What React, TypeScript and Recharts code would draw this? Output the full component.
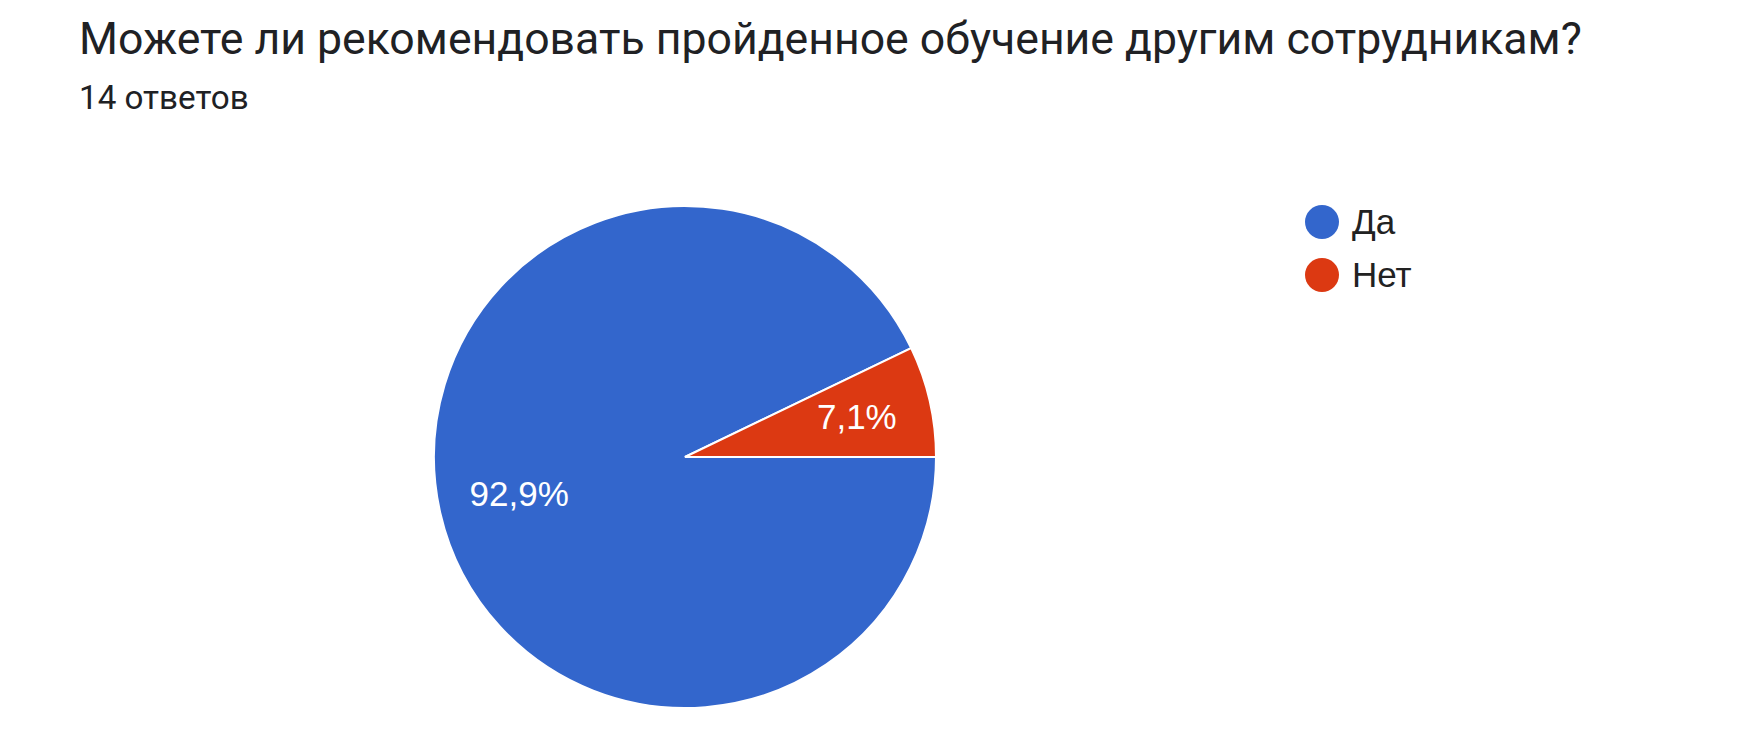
import React from 'react';
import { PieChart, Pie, Cell } from 'recharts';

const categories = ['Да', 'Нет'];
const counts = [13, 1];
const colors = ['#3366cc', '#dc3912'];
const title = 'Можете ли рекомендовать пройденное обучение другим сотрудникам?';
const subtitle = '14 ответов';

const data = categories.map((name, i) => ({ name, value: counts[i] }));

const RAD = Math.PI / 180;
const labelFont = '"Liberation Sans", Arial, sans-serif';

const renderLabel = (props: any) => {
  const { cx, cy, midAngle, outerRadius, percent } = props;
  const r = outerRadius * 0.69;
  const x = cx + r * Math.cos(-midAngle * RAD) + 3;
  const y = cy + r * Math.sin(-midAngle * RAD) - 2;
  const txt = (percent * 100).toFixed(1).replace('.', ',') + '%';
  return (
    <text
      x={x}
      y={y}
      fill="#ffffff"
      textAnchor="middle"
      dominantBaseline="central"
      fontFamily={labelFont}
      fontSize={35}
    >
      {txt}
    </text>
  );
};

export default function App() {
  return (
    <div
      style={{
        position: 'fixed',
        left: 0,
        top: 0,
        width: 1760,
        height: 730,
        background: '#ffffff',
        overflow: 'hidden',
      }}
    >
      <div
        style={{
          position: 'absolute',
          left: 79,
          top: 17,
          fontFamily: 'Roboto, Arial, sans-serif',
          fontSize: 44.6,
          lineHeight: '45px',
          color: '#202124',
          whiteSpace: 'nowrap',
        }}
      >
        {title}
      </div>
      <div
        style={{
          position: 'absolute',
          left: 79,
          top: 81,
          fontFamily: 'Roboto, Arial, sans-serif',
          fontSize: 33.2,
          lineHeight: '34px',
          color: '#202124',
          whiteSpace: 'nowrap',
        }}
      >
        {subtitle}
      </div>
      <div style={{ position: 'absolute', left: 0, top: 0 }}>
        <PieChart width={1760} height={730} margin={{ top: 0, right: 0, bottom: 0, left: 0 }}>
          <Pie
            data={data}
            dataKey="value"
            nameKey="name"
            cx={685}
            cy={457}
            outerRadius={251}
            startAngle={0}
            endAngle={-360}
            stroke="#ffffff"
            strokeWidth={2}
            label={renderLabel}
            labelLine={false}
            isAnimationActive={false}
          >
            {data.map((d, i) => (
              <Cell key={d.name} fill={colors[i]} />
            ))}
          </Pie>
        </PieChart>
      </div>
      <div
        style={{
          position: 'absolute',
          left: 1305,
          top: 195,
          fontFamily: labelFont,
        }}
      >
        {data.map((d, i) => (
          <div key={d.name} style={{ display: 'flex', alignItems: 'center', height: 53 }}>
            <svg width={34} height={34} style={{ marginRight: 13 }}>
              <circle cx={17} cy={17} r={17} fill={colors[i]} />
            </svg>
            <span style={{ fontSize: 35, color: '#222222' }}>{d.name}</span>
          </div>
        ))}
      </div>
    </div>
  );
}
